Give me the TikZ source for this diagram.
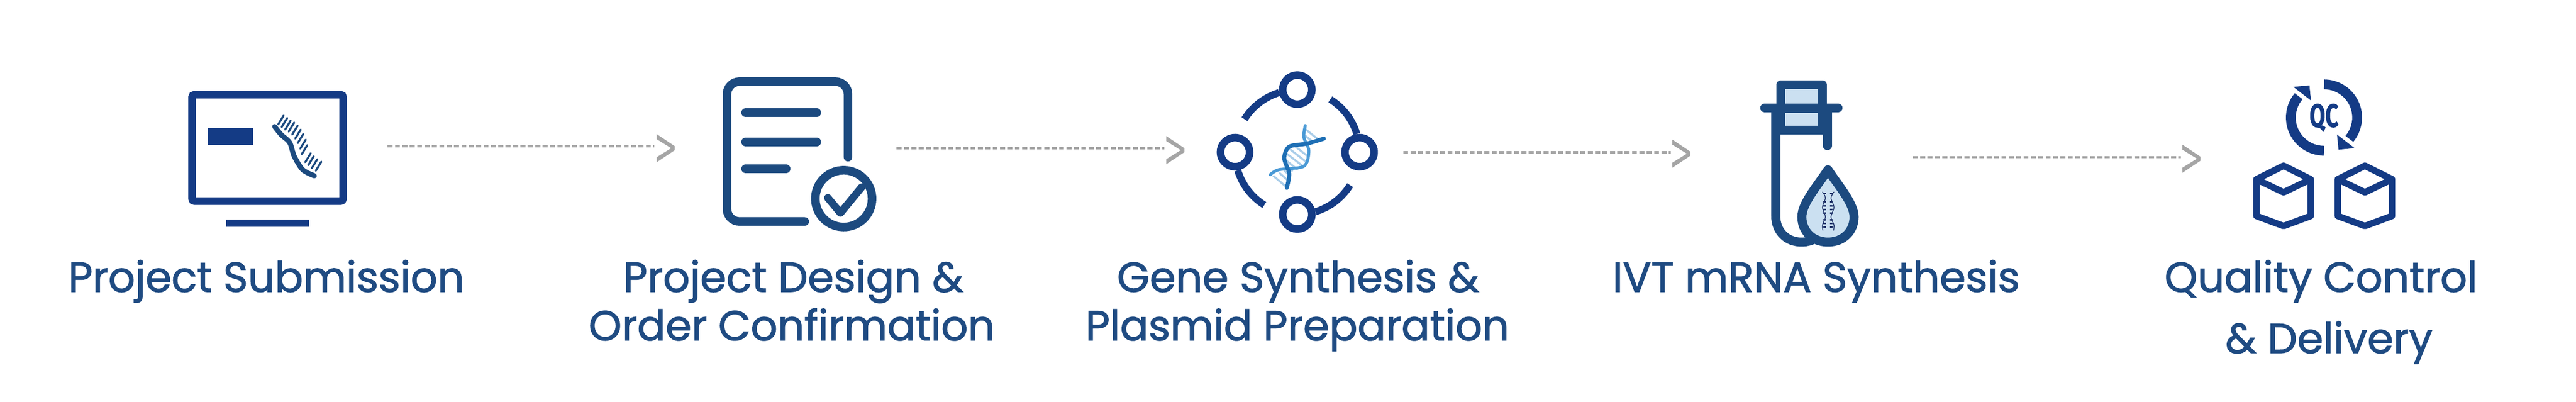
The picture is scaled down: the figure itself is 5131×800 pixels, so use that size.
\documentclass[tikz,border=0pt]{standalone}
\usepackage{fontspec}
\setmainfont{Poppins}[FakeBold=1.6]
\newfontfamily\qcfont{Fira Sans}[FakeBold=1]
\usetikzlibrary{positioning}
\definecolor{iconBlue}{HTML}{143B85}
\definecolor{docBlue}{HTML}{1C4A7F}
\definecolor{labelBlue}{HTML}{1F4B82}
\definecolor{paleBlue}{HTML}{CBE0F1}
\definecolor{flowGray}{HTML}{A5A5A5}
\definecolor{helixDark}{HTML}{1E6FB5}
\definecolor{helixMid}{HTML}{4A9AD6}
\definecolor{helixPale}{HTML}{A9CDE9}
\definecolor{tinyHelix}{HTML}{1C2F66}
\tikzstyle{stepLabel}=[anchor=base,inner sep=0pt,text=labelBlue,font=\fontsize{47.5}{47.5}\selectfont]
\tikzstyle{flowLine}=[draw=flowGray,line width=1mm,dash pattern=on 2mm off 0.94mm]
\tikzstyle{chevron}=[fill=flowGray]
\tikzstyle{docStroke}=[draw=docBlue,line width=3.4mm,line cap=round,line join=round]
\tikzstyle{ringNode}=[circle,draw=iconBlue,line width=3mm,minimum size=11.6mm,inner sep=0pt]
\tikzstyle{boxStroke}=[draw=iconBlue,line width=2.6mm,line join=round]

\begin{document}
\begin{tikzpicture}[x=0.2mm,y=-0.2mm]
\useasboundingbox (0,0) rectangle (5131,800);
% monitor
        \draw[draw=iconBlue,line width=3mm,rounded corners=1mm] (382.5,188.5) rectangle (683.5,400.5);
        \fill[iconBlue] (414,255) rectangle (504,288);
        \fill[iconBlue] (450,437) rectangle (616,452);
        \foreach \x/\y in {565/230,572/235,579/240,586/244,593/250,599/258,604/267,609/278,612/289,619/305,625/311,632/317,640/322} {
                \draw[docBlue,line width=0.8mm,line cap=round] (\x,\y) -- ++(-11,18);
        }
        \draw[docBlue,line width=2mm,line cap=round] plot[smooth] coordinates {(547,252) (560,268) (577,284) (586,311) (603,338) (626,350)};
% document
        \draw[docStroke,rounded corners=5mm] (1603,441) -- (1448,441) -- (1448,162.5) -- (1689,162.5) -- (1689,313);
        \draw[docStroke] (1485,224.5) -- (1627,224.5);
        \draw[docStroke] (1485,282.5) -- (1627,282.5);
        \draw[docStroke] (1485,336) -- (1566,336);
        \node[circle,draw=docBlue,line width=3.4mm,minimum size=22.6mm,inner sep=0pt] (docCheck) at (1680.5,395.5) {};
        \draw[docBlue,line width=3mm,line cap=round,line join=round] (1649,394) -- (1674,424) -- (1716,373);
% ring of circles
        \node[ringNode] (ringTop) at (2584,178.5) {};
        \node[ringNode] (ringLeft) at (2460,303) {};
        \node[ringNode] (ringRight) at (2708,303) {};
        \node[ringNode] (ringBottom) at (2584,427) {};
        \foreach \a in {17,107,197,287} {
                \draw[iconBlue,line width=2.8mm] (2584,303) ++(-\a:124) arc (-\a:-\a-41:124);
        }
% helix
        \foreach \xa/\ya/\xb/\yb in {2600/257/2626/278,2597/268/2616/283,2597/279/2606/286,2578/290/2606/312,2568/296/2605/325,2563/306/2598/333,2560/318/2585/338,2561/330/2575/341,2536/350/2562/372,2548/344/2566/360,2558/340/2567/347} {
                \draw[helixPale,line width=0.8mm] (\xa,\ya) -- (\xb,\yb);
        }
        \draw[helixMid,line width=1.2mm,line cap=round] plot[smooth] coordinates {(2600,250) (2597,273) (2607,300) (2597,331) (2547,338) (2530,348)};
        \draw[helixDark,line width=1.6mm,line cap=round] plot[smooth] coordinates {(2563,374) (2568,346) (2558,315) (2568,292) (2603,286) (2637,276)};
% tube
        \fill[paleBlue] (3546,170) rectangle (3631,260);
        \draw[docBlue,line width=3.6mm,line cap=round] (3640,224) -- (3640,290);
        \fill[docBlue] (3528,224) rectangle (3649,268);
        \fill[paleBlue] (3556,225) rectangle (3621,250);
        \draw[docBlue,line width=3.6mm,line join=round] (3547,206) -- (3547,169) -- (3630,169) -- (3630,206);
        \fill[paleBlue] (3556,178) rectangle (3621,206);
        \draw[docBlue,line width=3.6mm,line cap=round] (3515,215) -- (3661,215);
        \draw[docBlue,line width=3.6mm] (3537,224) -- (3537,430) .. controls (3537,462) and (3560,482) .. (3588,482) .. controls (3600,482) and (3610,479) .. (3620,472);
        \draw[docBlue,line width=3.6mm,fill=paleBlue,line join=round] (3641,338) .. controls (3620,370) and (3589,405) .. (3589,432) .. controls (3589,460) and (3610,482) .. (3641,482) .. controls (3672,482) and (3693,460) .. (3693,432) .. controls (3693,405) and (3662,370) .. (3641,338) -- cycle;
        \draw[tinyHelix,line width=0.3mm] plot[smooth] coordinates {(3630,382) (3636,394) (3630,413) (3636,432) (3630,448) (3631,459)};
        \draw[tinyHelix,line width=0.3mm] plot[smooth] coordinates {(3653,382) (3647,394) (3653,413) (3647,432) (3653,448) (3652,459)};
        \foreach \y in {385,402,410,417,424,438,445,452} {
                \fill[tinyHelix] (3632,\y-1.5) rectangle (3637,\y+1.5);
                \fill[tinyHelix] (3645,\y-1.5) rectangle (3650,\y+1.5);
        }
% quality control
        \draw[iconBlue,line width=3.9mm] (4629,234) ++(-90:66) arc (-90:40:66);
        \draw[iconBlue,line width=3.9mm] (4629,234) ++(90:66) arc (90:220:66);
        \fill[iconBlue] (4655,268) -- (4658,298) -- (4690,295) -- cycle;
        \fill[iconBlue] (4603,200) -- (4600,170) -- (4568,173) -- cycle;
        \node[inner sep=0pt,text=iconBlue] (qcMark) at (4629,234.5) {\qcfont\fontsize{37}{37}\selectfont\bfseries\scalebox{.7}[1]{QC}};
        \foreach \x in {4548.5,4710.5} {
                \draw[boxStroke] (\x,330) -- (\x+54,357) -- (\x+54,430) -- (\x,450) -- (\x-54,430) -- (\x-54,357) -- cycle;
                \draw[boxStroke] (\x-54,357) -- (\x,383) -- (\x+54,357);
        }
% flow arrows
        \foreach \n/\xa/\xb/\y/\xc/\yc in {1/772/1303/291/1308/295,2/1786/2319/295/2323/299,3/2795/3328/303/3331/306,4/3810/4344/313/4347/316} {
                \coordinate (flowStart\n) at (\xa,\y);
                \coordinate (flowEnd\n) at (\xb,\y);
                \coordinate (flowTip\n) at (\xc,\yc);
                \draw[flowLine] (flowStart\n) -- (flowEnd\n);
                \fill[chevron] (flowTip\n) ++(0,-28) -- ++(36,24) -- ++(0,8) -- ++(-36,24) -- ++(0,-10) -- ++(29,-18) -- ++(-29,-18) -- cycle;
        }
% labels
        \node[stepLabel] (labelSubmit) at (530.5,581) {Project Submission};
        \node[stepLabel] (labelDesign) at (1580,581) {Project Design \&};
        \node[stepLabel] (labelOrder) at (1577,677.6) {Order Confirmation};
        \node[stepLabel] (labelGene) at (2585.5,581) {Gene Synthesis \&};
        \node[stepLabel] (labelPlasmid) at (2584,677.6) {Plasmid Preparation};
        \node[stepLabel] (labelIvt) at (3617.5,581) {IVT mRNA Synthesis};
        \node[stepLabel] (labelQuality) at (4623,581) {Quality Control};
        \node[stepLabel] (labelDelivery) at (4639,703) {\& Delivery};
\end{tikzpicture}
\end{document}
